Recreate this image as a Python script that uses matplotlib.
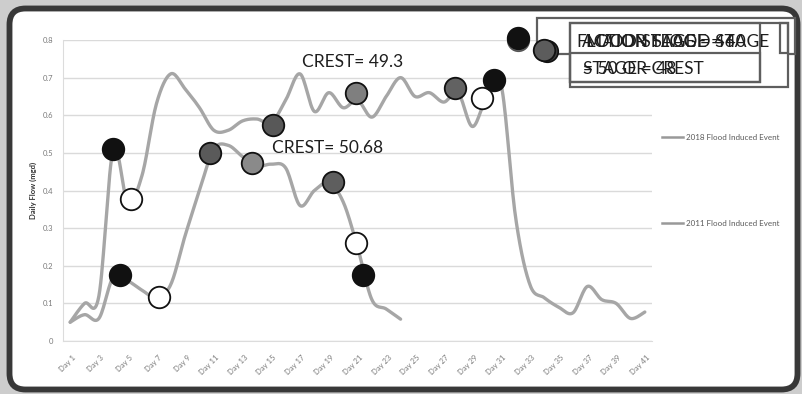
import numpy as np
import matplotlib
matplotlib.use("Agg")
import matplotlib.pyplot as plt
import matplotlib.transforms as mtransforms
from matplotlib.patches import FancyBboxPatch, Rectangle

plt.rcParams["font.family"] = ["Lato", "DejaVu Sans"]

# ---- data ---------------------------------------------------------------
day_labels = [f"Day {d}" for d in range(1, 42)]
days = list(range(1, 42))

flow_2011 = [0.05, 0.10, 0.12, 0.51, 0.37, 0.44, 0.63, 0.71, 0.67, 0.62,
             0.56, 0.56, 0.585, 0.59, 0.58, 0.64, 0.71, 0.61, 0.66, 0.62,
             0.64, 0.595, 0.65, 0.70, 0.65, 0.66, 0.635, 0.66, 0.57, 0.65,
             0.68, 0.33, 0.15, 0.115, 0.09, 0.075, 0.145, 0.11, 0.10, 0.06,
             0.077]
flow_2018 = [0.05, 0.07, 0.06, 0.17, 0.16, 0.135, 0.115, 0.15, 0.28, 0.40,
             0.51, 0.52, 0.49, 0.465, 0.47, 0.46, 0.36, 0.40, 0.42, 0.37,
             0.25, 0.11, 0.085, 0.058]

# stage markers placed on the hydrographs
marker_days = [4.0, 5.25, 4.5, 7.15, 10.75, 13.65, 15.1, 20.9, 19.3, 20.9,
               21.35, 27.8, 29.7, 30.5, 32.15, 34.0]
marker_vals = [0.51, 0.378, 0.175, 0.118, 0.50, 0.473, 0.575, 0.66, 0.423,
               0.26, 0.175, 0.672, 0.645, 0.693, 0.805, 0.773]
marker_fill = ["#111111", "white", "#111111", "white", "#5a5a5a", "#8a8a8a",
               "#585858", "#7f7f7f", "#5e5e5e", "white", "#111111", "#626262",
               "white", "#111111", "#111111", "#5c5c5c"]

crest_labels = ["CREST= 49.3", "CREST= 50.68"]
crest_pos = [(17.15, 0.742), (15.05, 0.513)]

legend_labels = ["2018 Flood Induced Event", "2011 Flood Induced Event"]
stage_row1 = ["FLOOD STAGE = 46", "ACTION STAGE = 40", "MAJOR FLOOD STAGE"]
stage_row2 = ["STAGE = 48", "= 50 OR CREST"]


def smooth(x, y, n=16):
    """Bezier smoothing through the points (spreadsheet-style smoothed line)."""
    pts = np.column_stack([np.asarray(x, float), np.asarray(y, float)])
    P = np.vstack([pts[0], pts, pts[-1]])
    t = np.linspace(0, 1, n, endpoint=False)[:, None]
    out = []
    for i in range(1, len(P) - 2):
        p0, p1, p2, p3 = P[i - 1], P[i], P[i + 1], P[i + 2]
        c1 = p1 + (p2 - p0) / 6.0
        c2 = p2 - (p3 - p1) / 6.0
        seg = ((1 - t) ** 3) * p1 + 3 * (1 - t) ** 2 * t * c1 \
            + 3 * (1 - t) * t ** 2 * c2 + t ** 3 * p2
        out.append(seg)
    out.append(pts[-1:])
    return np.vstack(out)


W, H = 803, 394
fig = plt.figure(figsize=(W / 100, H / 100), dpi=100, facecolor="#cdcdcd")

# pixel-space background layer with the rounded frame
bg = fig.add_axes([0, 0, 1, 1])
bg.set_xlim(0, W)
bg.set_ylim(H, 0)
bg.axis("off")
bg.set_zorder(0)
bg.add_patch(FancyBboxPatch((9.5, 8.5), 788, 381,
                            boxstyle="round,pad=0,rounding_size=16",
                            lw=4.2, ec="#383838", fc="white"))

ax = fig.add_axes([63 / W, (H - 341) / H, 589 / W, 301 / H])
ax.set_zorder(1)
ax.patch.set_visible(False)
ax.set_xlim(0.5, 41.5)
ax.set_ylim(0, 0.8)

yt = np.round(np.arange(0, 0.81, 0.1), 1)
ax.set_yticks(yt)
ax.set_yticklabels(["0"] + [f"{v:.1f}" for v in yt[1:]])
ax.yaxis.grid(True, color="#dadada", lw=1.0, zorder=0)
ax.set_axisbelow(True)
ax.tick_params(axis="y", length=0, pad=7, labelsize=5.5, labelcolor="#7a7a7a")

ax.set_xticks(days[::2])
ax.set_xticklabels(day_labels[::2], rotation=45, ha="right", va="center",
                   rotation_mode="anchor")
ax.tick_params(axis="x", length=0, pad=11, labelsize=5.5, labelcolor="#7a7a7a")
shift = mtransforms.ScaledTranslation(4 / 100, 0, fig.dpi_scale_trans)
for lab in ax.get_xticklabels():
    lab.set_transform(lab.get_transform() + shift)

for side in ["top", "right"]:
    ax.spines[side].set_visible(False)
for side in ["left", "bottom"]:
    ax.spines[side].set_color("#dcdcdc")
    ax.spines[side].set_linewidth(0.8)

line_color = "#a6a6a6"
s11 = smooth(days, flow_2011)
s18 = smooth(days[:len(flow_2018)], flow_2018)
ax.plot(s18[:, 0], s18[:, 1], color=line_color, lw=2.4, zorder=2,
        solid_capstyle="round", label=legend_labels[0])
ax.plot(s11[:, 0], s11[:, 1], color=line_color, lw=2.4, zorder=2,
        solid_capstyle="round", label=legend_labels[1])

# stage boxes (pixel coordinates)
px = bg.transData
boxes = [((537, 18), (795, 54), True),
         ((570, 23), (788, 87), True),
         ((570, 23), (760, 82), False),
         ((570, 53), (760, 82), False),
         ((780, 23), (788, 53), False)]
for (x0, y0), (x1, y1), filled in boxes:
    ax.add_patch(Rectangle((x0, y0), x1 - x0, y1 - y0, transform=px,
                           fc="white" if filled else "none", ec="#5e5e5e",
                           lw=1.6, zorder=4, clip_on=False))
for txt, x0 in zip(stage_row1, [577, 582, 586]):
    ax.text(x0, 42, txt, transform=px, fontsize=12.5, color="#1e1e1e",
            ha="left", va="center", zorder=4.5, clip_on=False)
for txt, x0 in zip(stage_row2, [583, 583]):
    ax.text(x0, 69, txt, transform=px, fontsize=12.5, color="#1e1e1e",
            ha="left", va="center", zorder=4.5, clip_on=False)

# shadows behind the two top markers
sh1 = mtransforms.offset_copy(ax.transData, fig=fig, x=0, y=-2, units="dots")
sh2 = mtransforms.offset_copy(ax.transData, fig=fig, x=3, y=-1, units="dots")
ax.plot(marker_days[14], marker_vals[14], "o", ms=15.5, mfc="#8c8c8c",
        mec="#555555", mew=1.2, transform=sh1, zorder=4.8, clip_on=False)
ax.plot(marker_days[15], marker_vals[15], "o", ms=15.5, mfc="#3a3a3a",
        mec="#111111", mew=1.2, transform=sh2, zorder=4.8, clip_on=False)

for d, v, c in zip(marker_days, marker_vals, marker_fill):
    ax.plot(d, v, "o", ms=15.5, mfc=c, mec="#111111", mew=1.3, zorder=5,
            clip_on=False)

for txt, (d, v) in zip(crest_labels, crest_pos):
    ax.text(d, v, txt, fontsize=12.5, color="#1e1e1e", ha="left",
            va="center", zorder=6)

# legend drawn at the right of the plot area
for lab, y in zip(legend_labels, [137, 223]):
    bg.plot([662, 683], [y, y], color="#999999", lw=1.8)
    bg.text(686, y, lab, fontsize=5.8, color="#5a5a5a", ha="left",
            va="center")

bg.text(33, 190, "Daily Flow (mgd)", rotation=90, fontsize=5.5,
        fontweight="bold", color="#333333", ha="center", va="center")

fig.savefig("out.png", dpi=100, facecolor=fig.get_facecolor())
